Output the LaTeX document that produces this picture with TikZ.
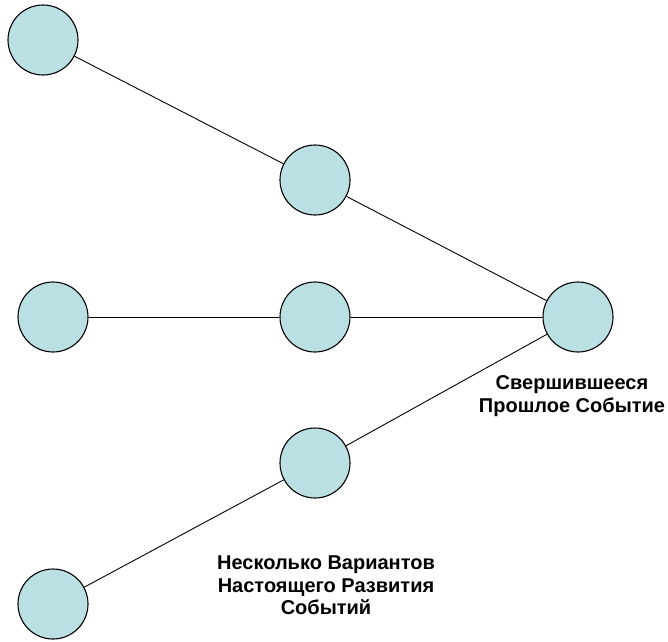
\documentclass[tikz,border=0pt]{standalone}
\usepackage{fontspec}
\setmainfont{Liberation Sans}
\definecolor{nodefill}{RGB}{187,224,228}
\begin{document}
\begin{tikzpicture}[x=1pt,y=-1pt,
  ev/.style={circle,draw=black,line width=1.1pt,fill=nodefill,minimum size=70pt,inner sep=0pt},
  link/.style={draw=black,line width=0.9pt},
  lbl/.style={align=center,font=\fontsize{20}{22.5}\selectfont\bfseries,inner sep=0pt}]
\useasboundingbox (0,0) rectangle (668,641);
\node[ev] (a) at (43,40) {};
\node[ev] (b) at (315,180) {};
\node[ev] (c) at (53,317) {};
\node[ev] (d) at (315,317) {};
\node[ev] (e) at (578,317) {};
\node[ev] (f) at (315,463) {};
\node[ev] (g) at (53,604) {};
\draw[link] (a) -- (b);
\draw[link] (b) -- (e);
\draw[link] (c) -- (d);
\draw[link] (d) -- (e);
\draw[link] (f) -- (e);
\draw[link] (g) -- (f);
\node[lbl] (t1) at (572,396.3) {Свершившееся\\Прошлое Событие};
\node[lbl] (t2) at (326,585.4) {Несколько Вариантов\\Настоящего Развития\\Событий};
\end{tikzpicture}
\end{document}
